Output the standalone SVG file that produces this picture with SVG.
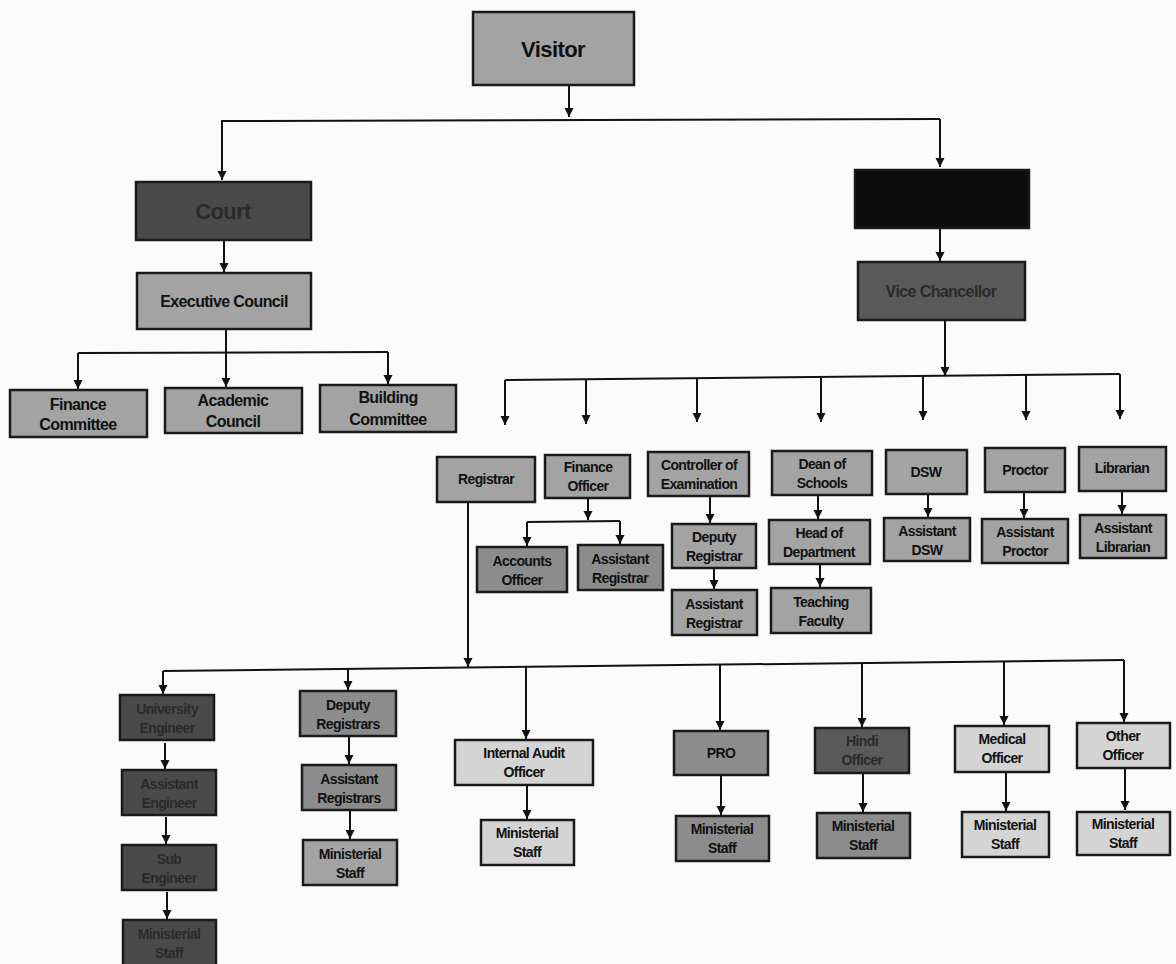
<svg xmlns="http://www.w3.org/2000/svg" width="1176" height="964" viewBox="0 0 1176 964">
<defs>
<marker id="ah" markerUnits="userSpaceOnUse" markerWidth="9" markerHeight="11" refX="9" refY="4.5" orient="auto">
<path d="M0,0 L9,4.5 L0,9 z" fill="#111"/>
</marker>
</defs>
<style>
.b{stroke:#1a1a1a;stroke-width:2.5}
.g1{fill:#a3a3a3}
.g2{fill:#8c8c8c}
.lt{fill:#d4d4d4}
.dk{fill:#5a5a5a}
.vd{fill:#4a4a4a}
.bl{fill:#0d0d0d}
.t{font-family:"Liberation Sans",Arial,sans-serif;font-weight:bold;font-size:14px;letter-spacing:-0.6px;fill:#111;text-anchor:middle}
.big{font-size:22px}
.md{font-size:16px}
.dt{fill:#2a2a2a}
.c{stroke:#111;stroke-width:2;fill:none}
.ca{stroke:#111;stroke-width:2;fill:none;marker-end:url(#ah)}
</style>
<rect width="1176" height="964" fill="#fbfbfb"/>
<g id="connectors">
<line class="ca" x1="569" y1="85" x2="569" y2="117"/>
<polyline class="c" points="222,123 222,121 940,119"/>
<line class="ca" x1="222" y1="122" x2="222" y2="180"/>
<line class="ca" x1="940" y1="119" x2="940" y2="167"/>
<line class="ca" x1="224" y1="240" x2="224" y2="272"/>
<line class="ca" x1="940" y1="228" x2="940" y2="261"/>
<line class="ca" x1="226" y1="329" x2="226" y2="387"/>
<line class="c" x1="78" y1="353" x2="388" y2="352"/>
<line class="ca" x1="78" y1="353" x2="78" y2="389"/>
<line class="ca" x1="388" y1="352" x2="388" y2="384"/>
<line class="ca" x1="945" y1="320" x2="945" y2="376"/>
<line class="c" x1="505" y1="380" x2="1120" y2="374"/>
<line class="ca" x1="505" y1="380" x2="505" y2="425"/>
<line class="ca" x1="586" y1="379" x2="586" y2="424"/>
<line class="ca" x1="697" y1="378" x2="697" y2="422"/>
<line class="ca" x1="821" y1="377" x2="821" y2="422"/>
<line class="ca" x1="923" y1="376" x2="923" y2="420"/>
<line class="ca" x1="1026" y1="375" x2="1026" y2="420"/>
<line class="ca" x1="1120" y1="374" x2="1120" y2="419"/>
<line class="ca" x1="588" y1="498" x2="588" y2="520"/>
<line class="c" x1="527" y1="522" x2="620" y2="521"/>
<line class="ca" x1="527" y1="522" x2="527" y2="546"/>
<line class="ca" x1="620" y1="521" x2="620" y2="544"/>
<line class="ca" x1="710" y1="496" x2="710" y2="523"/>
<line class="ca" x1="714" y1="568" x2="714" y2="589"/>
<line class="ca" x1="818" y1="495" x2="818" y2="519"/>
<line class="ca" x1="820" y1="564" x2="820" y2="587"/>
<line class="ca" x1="928" y1="494" x2="928" y2="517"/>
<line class="ca" x1="1024" y1="492" x2="1024" y2="518"/>
<line class="ca" x1="1122" y1="491" x2="1122" y2="514"/>
<line class="ca" x1="468" y1="502" x2="468" y2="667"/>
<line class="c" x1="163" y1="671" x2="1124" y2="660"/>
<line class="ca" x1="163" y1="671" x2="163" y2="694"/>
<line class="ca" x1="348" y1="669" x2="348" y2="690"/>
<line class="ca" x1="526" y1="667" x2="526" y2="739"/>
<line class="ca" x1="720" y1="665" x2="720" y2="730"/>
<line class="ca" x1="862" y1="663" x2="862" y2="727"/>
<line class="ca" x1="1004" y1="662" x2="1004" y2="725"/>
<line class="ca" x1="1124" y1="660" x2="1124" y2="722"/>
<line class="ca" x1="165" y1="743" x2="165" y2="769"/>
<line class="ca" x1="166" y1="817" x2="166" y2="844"/>
<line class="ca" x1="167" y1="892" x2="167" y2="919"/>
<line class="ca" x1="349" y1="737" x2="349" y2="764"/>
<line class="ca" x1="350" y1="811" x2="350" y2="839"/>
<line class="ca" x1="527" y1="785" x2="527" y2="819"/>
<line class="ca" x1="721" y1="775" x2="721" y2="815"/>
<line class="ca" x1="863" y1="773" x2="863" y2="812"/>
<line class="ca" x1="1006" y1="772" x2="1006" y2="811"/>
<line class="ca" x1="1125" y1="768" x2="1125" y2="810"/>
</g>
<g id="visitor"><rect class="b g1" x="473" y="12" width="161" height="73"/><text class="t big" x="553" y="57">Visitor</text></g>
<g id="court"><rect class="b vd" x="136" y="182" width="175" height="58"/><text class="t big dt" x="223" y="219">Court</text></g>
<g id="chancellor"><rect class="b bl" x="855" y="170" width="174" height="58"/></g>
<g id="exec"><rect class="b g1" x="137" y="273" width="174" height="56"/><text class="t md" x="224" y="307">Executive Council</text></g>
<g id="vc"><rect class="b dk" x="858" y="262" width="167" height="58"/><text class="t md dt" x="941" y="297">Vice Chancellor</text></g>
<g id="fincom"><rect class="b g1" x="10" y="390" width="137" height="47"/><text class="t md" x="78" y="410">Finance</text><text class="t md" x="78" y="430">Committee</text></g>
<g id="acad"><rect class="b g1" x="165" y="388" width="137" height="45"/><text class="t md" x="233" y="406">Academic</text><text class="t md" x="233" y="427">Council</text></g>
<g id="bldg"><rect class="b g1" x="320" y="385" width="136" height="47"/><text class="t md" x="388" y="403">Building</text><text class="t md" x="388" y="425">Committee</text></g>
<g id="registrar"><rect class="b g1" x="437" y="457" width="98" height="45"/><text class="t" x="486" y="484">Registrar</text></g>
<g id="finoff"><rect class="b g1" x="545" y="455" width="85" height="43"/><text class="t" x="588" y="472">Finance</text><text class="t" x="588" y="491">Officer</text></g>
<g id="coe"><rect class="b g1" x="648" y="452" width="101" height="44"/><text class="t" x="699" y="470">Controller of</text><text class="t" x="699" y="489">Examination</text></g>
<g id="dean"><rect class="b g1" x="772" y="451" width="100" height="44"/><text class="t" x="822" y="469">Dean of</text><text class="t" x="822" y="488">Schools</text></g>
<g id="dsw"><rect class="b g1" x="886" y="450" width="81" height="44"/><text class="t" x="926" y="477">DSW</text></g>
<g id="proctor"><rect class="b g1" x="985" y="448" width="80" height="44"/><text class="t" x="1025" y="475">Proctor</text></g>
<g id="librarian"><rect class="b g1" x="1079" y="447" width="87" height="44"/><text class="t" x="1122" y="473">Librarian</text></g>
<g id="accounts"><rect class="b g2" x="477" y="547" width="90" height="45"/><text class="t" x="522" y="566">Accounts</text><text class="t" x="522" y="585">Officer</text></g>
<g id="asstreg1"><rect class="b g2" x="578" y="545" width="85" height="45"/><text class="t" x="620" y="564">Assistant</text><text class="t" x="620" y="583">Registrar</text></g>
<g id="depreg"><rect class="b g1" x="672" y="524" width="84" height="44"/><text class="t" x="714" y="542">Deputy</text><text class="t" x="714" y="561">Registrar</text></g>
<g id="asstreg2"><rect class="b g1" x="672" y="590" width="85" height="45"/><text class="t" x="714" y="609">Assistant</text><text class="t" x="714" y="628">Registrar</text></g>
<g id="hod"><rect class="b g1" x="769" y="520" width="101" height="44"/><text class="t" x="819" y="538">Head of</text><text class="t" x="819" y="557">Department</text></g>
<g id="teach"><rect class="b g1" x="771" y="588" width="100" height="45"/><text class="t" x="821" y="607">Teaching</text><text class="t" x="821" y="626">Faculty</text></g>
<g id="adsw"><rect class="b g1" x="884" y="518" width="86" height="43"/><text class="t" x="927" y="536">Assistant</text><text class="t" x="927" y="555">DSW</text></g>
<g id="aproctor"><rect class="b g1" x="982" y="519" width="86" height="44"/><text class="t" x="1025" y="537">Assistant</text><text class="t" x="1025" y="556">Proctor</text></g>
<g id="alib"><rect class="b g1" x="1080" y="515" width="86" height="43"/><text class="t" x="1123" y="533">Assistant</text><text class="t" x="1123" y="552">Librarian</text></g>
<g id="ue"><rect class="b vd" x="120" y="695" width="94" height="45"/><text class="t dt" x="167" y="714">University</text><text class="t dt" x="167" y="733">Engineer</text></g>
<g id="ae"><rect class="b vd" x="122" y="770" width="94" height="45"/><text class="t dt" x="169" y="789">Assistant</text><text class="t dt" x="169" y="808">Engineer</text></g>
<g id="se"><rect class="b vd" x="122" y="845" width="94" height="45"/><text class="t dt" x="169" y="864">Sub</text><text class="t dt" x="169" y="883">Engineer</text></g>
<g id="ms1"><rect class="b vd" x="123" y="920" width="93" height="46"/><text class="t dt" x="169" y="939">Ministerial</text><text class="t dt" x="169" y="958">Staff</text></g>
<g id="depregs"><rect class="b g2" x="300" y="691" width="96" height="45"/><text class="t" x="348" y="710">Deputy</text><text class="t" x="348" y="729">Registrars</text></g>
<g id="asstregs"><rect class="b g2" x="302" y="765" width="94" height="45"/><text class="t" x="349" y="784">Assistant</text><text class="t" x="349" y="803">Registrars</text></g>
<g id="ms2"><rect class="b g1" x="303" y="840" width="94" height="45"/><text class="t" x="350" y="859">Ministerial</text><text class="t" x="350" y="878">Staff</text></g>
<g id="iao"><rect class="b lt" x="455" y="740" width="138" height="45"/><text class="t" x="524" y="758">Internal Audit</text><text class="t" x="524" y="777">Officer</text></g>
<g id="ms3"><rect class="b lt" x="481" y="820" width="93" height="45"/><text class="t" x="527" y="838">Ministerial</text><text class="t" x="527" y="857">Staff</text></g>
<g id="pro"><rect class="b g2" x="674" y="731" width="94" height="44"/><text class="t" x="721" y="758">PRO</text></g>
<g id="ms4"><rect class="b g2" x="676" y="816" width="93" height="45"/><text class="t" x="722" y="834">Ministerial</text><text class="t" x="722" y="853">Staff</text></g>
<g id="hindi"><rect class="b dk" x="815" y="728" width="94" height="45"/><text class="t dt" x="862" y="746">Hindi</text><text class="t dt" x="862" y="765">Officer</text></g>
<g id="ms5"><rect class="b g2" x="817" y="813" width="93" height="45"/><text class="t" x="863" y="831">Ministerial</text><text class="t" x="863" y="850">Staff</text></g>
<g id="medical"><rect class="b lt" x="955" y="726" width="94" height="46"/><text class="t" x="1002" y="744">Medical</text><text class="t" x="1002" y="763">Officer</text></g>
<g id="ms6"><rect class="b lt" x="962" y="812" width="87" height="45"/><text class="t" x="1005" y="830">Ministerial</text><text class="t" x="1005" y="849">Staff</text></g>
<g id="other"><rect class="b lt" x="1077" y="723" width="93" height="45"/><text class="t" x="1123" y="741">Other</text><text class="t" x="1123" y="760">Officer</text></g>
<g id="ms7"><rect class="b lt" x="1077" y="812" width="93" height="43"/><text class="t" x="1123" y="829">Ministerial</text><text class="t" x="1123" y="848">Staff</text></g>
</svg>
